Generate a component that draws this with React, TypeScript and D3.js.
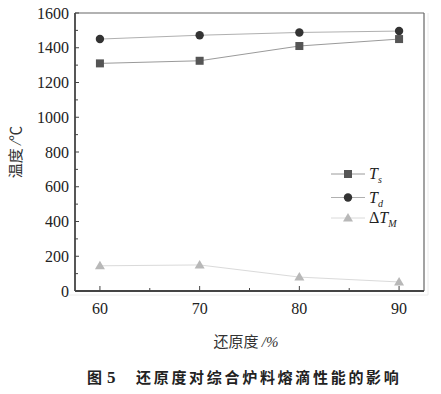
import * as d3 from "d3";

const reduction = [60, 70, 80, 90];
const tsValues = [1310, 1325, 1410, 1450];
const tdValues = [1450, 1472, 1488, 1496];
const dtValues = [145, 150, 80, 52];
const yTicks = [0, 200, 400, 600, 800, 1000, 1200, 1400, 1600];

const serif = "'Liberation Serif', 'DejaVu Serif', serif";
const cjk = "'Noto Sans CJK SC', sans-serif";

const App = () => {
  const width = 441;
  const height = 394;
  const margin = { top: 13, right: 17, bottom: 103, left: 75 };
  const innerWidth = width - margin.left - margin.right;
  const innerHeight = height - margin.top - margin.bottom;

  const xScale = d3.scaleLinear().domain([57.5, 92.5]).range([0, innerWidth]);
  const yScale = d3.scaleLinear().domain([0, 1600]).range([innerHeight, 0]);

  const line = d3
    .line<number>()
    .x((_, i) => xScale(reduction[i]))
    .y((d) => yScale(d));

  const minorY = d3.range(100, 1600, 200);
  const minorX = [65, 75, 85];

  const series = [
    { name: "s", values: tsValues, stroke: "#9a9a9a", fill: "#555", shape: "square" },
    { name: "d", values: tdValues, stroke: "#b0b0b0", fill: "#333", shape: "circle" },
    { name: "M", values: dtValues, stroke: "#dadada", fill: "#b8b8b8", shape: "triangle" },
  ];

  const marker = (shape: string, x: number, y: number, fill: string, key?: string | number) => {
    if (shape === "square") return <rect key={key} x={x - 4} y={y - 4} width={8} height={8} fill={fill} />;
    if (shape === "circle") return <circle key={key} cx={x} cy={y} r={4.2} fill={fill} />;
    return (
      <path
        key={key}
        d={`M${x},${y - 5}L${x + 5},${y + 3.5}L${x - 5},${y + 3.5}Z`}
        fill={fill}
      />
    );
  };

  const legendY = [174, 197.5, 218];

  return (
    <svg width={width} height={height} style={{ position: "absolute", left: 0, top: 0, background: "#fff" }}>
      <g transform={`translate(${margin.left}, ${margin.top})`}>
        {/* faint outer box lines */}
        <line x1={-8} x2={innerWidth + 4} y1={innerHeight + 4} y2={innerHeight + 4} stroke="#ececec" />
        <line x1={innerWidth + 4} x2={innerWidth + 4} y1={0} y2={innerHeight + 4} stroke="#ececec" />

        {/* frame */}
        <line x1={0} x2={innerWidth} y1={0} y2={0} stroke="#666" strokeWidth={1.2} />
        <line x1={innerWidth} x2={innerWidth} y1={0} y2={innerHeight} stroke="#666" strokeWidth={1.2} />
        <line x1={0} x2={0} y1={0} y2={innerHeight} stroke="#444" strokeWidth={1.8} />
        <line x1={0} x2={innerWidth} y1={innerHeight} y2={innerHeight} stroke="#444" strokeWidth={1.8} />

        {/* y axis */}
        {yTicks.map((t) => (
          <g key={t} transform={`translate(0,${yScale(t)})`}>
            <line x1={0} x2={4} stroke="#444" />
            <text x={-6} dy="0.35em" textAnchor="end" fontFamily={serif} fontSize={16} fill="#222">
              {t}
            </text>
          </g>
        ))}
        {minorY.map((t) => (
          <line key={t} x1={0} x2={3} y1={yScale(t)} y2={yScale(t)} stroke="#444" />
        ))}

        {/* x axis */}
        {reduction.map((t) => (
          <g key={t} transform={`translate(${xScale(t)},${innerHeight})`}>
            <line y1={0} y2={-5} stroke="#444" />
            <text y={23} textAnchor="middle" fontFamily={serif} fontSize={16} fill="#222">
              {t}
            </text>
          </g>
        ))}
        {minorX.map((t) => (
          <line key={t} x1={xScale(t)} x2={xScale(t)} y1={innerHeight} y2={innerHeight - 3} stroke="#444" />
        ))}

        {/* series */}
        {series.map((s) => (
          <g key={s.name}>
            <path d={line(s.values) ?? ""} fill="none" stroke={s.stroke} strokeWidth={1} />
            {s.values.map((v, i) => marker(s.shape, xScale(reduction[i]), yScale(v), s.fill, i))}
          </g>
        ))}
      </g>

      {/* legend */}
      {series.map((s, i) => (
        <g key={s.name}>
          <line x1={331} x2={365} y1={legendY[i]} y2={legendY[i]} stroke={s.stroke} />
          {marker(s.shape, 348, legendY[i], s.fill)}
          <text x={369} y={legendY[i] + 5} fontFamily={serif} fontSize={16} fill="#222">
            {s.name === "M" ? "Δ" : ""}
            <tspan fontStyle="italic">T</tspan>
            <tspan fontStyle="italic" fontSize={10} dy={4}>
              {s.name}
            </tspan>
          </text>
        </g>
      ))}

      {/* axis titles */}
      <text
        transform={`translate(21, ${margin.top + innerHeight / 2}) rotate(-90)`}
        textAnchor="middle"
        fontFamily={cjk}
        fontSize={15}
        fill="#333"
      >
        温度 <tspan fontFamily={serif} fontStyle="italic">/</tspan>℃
      </text>
      <text x={246} y={347} textAnchor="middle" fontFamily={cjk} fontSize={15} fill="#333">
        还原度 <tspan fontFamily={serif} fontStyle="italic">/%</tspan>
      </text>

      {/* caption */}
      <text x={87} y={383} fontFamily={cjk} fontSize={15} fontWeight="bold" fill="#222">
        图
        <tspan x={107} fontFamily={serif} fontSize={17}>5</tspan>
        <tspan x={136} letterSpacing={2.7}>还原度对综合炉料熔滴性能的影响</tspan>
      </text>
    </svg>
  );
};

export default App;
